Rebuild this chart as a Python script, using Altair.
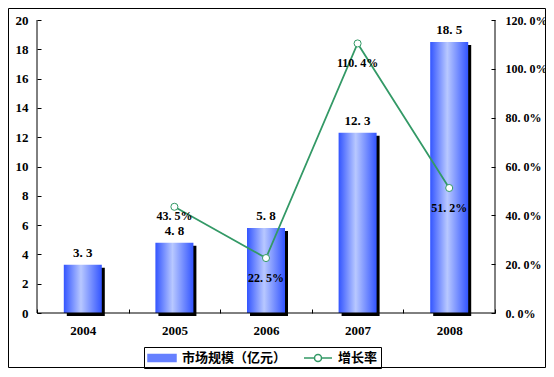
import altair as alt
import pandas as pd

years = ["2004", "2005", "2006", "2007", "2008"]
market = [3.3, 4.8, 5.8, 12.3, 18.5]
growth_years = ["2005", "2006", "2007", "2008"]
growth = [43.5, 22.5, 110.4, 51.2]
bar_name = "市场规模（亿元）"
line_name = "增长率"

W, H = 458, 293
NUM_FONT = "Liberation Serif"
CJK_FONT = "Noto Sans CJK SC"
GREEN = "#339966"
BAR_BLUE = "#6680ff"

bars_df = pd.DataFrame({
    "year": years,
    "value": market,
    "label": [f"{v:.1f}".replace(".", ". ") for v in market],
})
line_df = pd.DataFrame({
    "year": growth_years,
    "rate": growth,
    "label": [f"{v:.1f}".replace(".", ". ") + "%" for v in growth],
})
legend_df = pd.DataFrame({"series": [bar_name, line_name], "year": ["2004", "2005"], "rate": [1000, 1000]})
dummy = pd.DataFrame({"a": [0]})

x_axis = alt.Axis(
    title=None, domain=False, tickBand="extent", tickSize=4, offset=-4,
    tickColor="black", labelAngle=0, labelPadding=11, labelFont=NUM_FONT,
    labelFontWeight="bold", labelFontSize=13, labelColor="black",
)
x_enc = alt.X("year:N", sort=years, scale=alt.Scale(domain=years, paddingInner=0, paddingOuter=0), axis=x_axis)

yl_axis = alt.Axis(
    title=None, domain=False, grid=False, tickSize=4, offset=-4, tickColor="black",
    values=list(range(0, 21, 2)), format="d", labelPadding=9, labelFont=NUM_FONT,
    labelFontWeight="bold", labelFontSize=13, labelColor="black",
)
yl_enc = alt.Y("value:Q", scale=alt.Scale(domain=[0, 20], nice=False), axis=yl_axis)

yr_axis = alt.Axis(
    title=None, domain=False, grid=False, tickSize=4, offset=-4, tickColor="black",
    orient="right", values=list(range(0, 121, 20)),
    labelExpr="replace(format(datum.value, '.1f'), '.', '. ') + '%'",
    labelPadding=10, labelFont=NUM_FONT, labelFontWeight="bold",
    labelFontSize=12, labelColor="black",
)
yr_enc = alt.Y("rate:Q", scale=alt.Scale(domain=[0, 120], nice=False), axis=yr_axis)

grad = alt.Gradient(
    gradient="linear", x1=0, x2=1, y1=0, y2=0,
    stops=[
        alt.GradientStop(offset=0, color="#3355ff"),
        alt.GradientStop(offset=0.45, color="#b8c8ff"),
        alt.GradientStop(offset=1, color="#3355ff"),
    ],
)

base_bar = alt.Chart(bars_df)
shadow = base_bar.mark_bar(size=38, color="black", xOffset=3, yOffset=3).encode(x=x_enc, y=yl_enc)
bars = base_bar.mark_bar(size=38, color=grad).encode(x=x_enc, y=yl_enc)
bar_text = base_bar.mark_text(
    dy=-5, baseline="bottom", font=NUM_FONT, fontWeight="bold", fontSize=13, color="black"
).encode(x=x_enc, y=yl_enc, text="label:N")
left = alt.layer(shadow, bars, bar_text)

path_line = "M-2,0H-0.5M0.5,0H2M0.5,0A0.5,0.5,0,1,1,-0.5,0A0.5,0.5,0,1,1,0.5,0"
path_bar = "M-2,-0.5H2V0.5H-2Z"

legend = alt.Legend(
    title=None, orient="none", legendX=107, legendY=327, direction="horizontal",
    strokeColor="black", padding=3, symbolSize=196, symbolOffset=7,
    symbolStrokeWidth=1.5, labelOffset=12, columnPadding=14, labelFont=CJK_FONT,
    labelFontWeight="bold", labelFontSize=13, labelColor="black",
)
dom = [bar_name, line_name]

base_line = alt.Chart(line_df)
line = base_line.mark_line(strokeWidth=1.75, color=GREEN).encode(x=x_enc, y=yr_enc)
points = base_line.mark_point(shape="circle", size=50, filled=True, fill="white", stroke=GREEN, strokeWidth=1, opacity=1).encode(
    x=x_enc, y=yr_enc
)
legend_layer = alt.Chart(legend_df).mark_point(size=196, filled=True, opacity=1, strokeWidth=1.5, clip=True).encode(
    x=x_enc, y=yr_enc,
    fill=alt.Fill("series:N", scale=alt.Scale(domain=dom, range=[BAR_BLUE, "white"]), legend=legend),
    stroke=alt.Stroke("series:N", scale=alt.Scale(domain=dom, range=[BAR_BLUE, GREEN]), legend=legend),
    shape=alt.Shape("series:N", scale=alt.Scale(domain=dom, range=[path_bar, path_line]), legend=legend),
)
text_2005 = base_line.mark_text(dy=9, baseline="middle", font=NUM_FONT, fontWeight="bold", fontSize=12, color="black").encode(
    x=x_enc, y=yr_enc, text="label:N"
).transform_filter(alt.datum.year == "2005")
text_rest = base_line.mark_text(dy=20, baseline="middle", font=NUM_FONT, fontWeight="bold", fontSize=12, color="black").encode(
    x=x_enc, y=yr_enc, text="label:N"
).transform_filter(alt.datum.year != "2005")
right = alt.layer(line, points, text_2005, text_rest, legend_layer)

deco = alt.Chart(dummy)
left_dom = deco.mark_rule(color="black").encode(x=alt.value(0), y=alt.value(0), y2=alt.value(H))
right_dom = deco.mark_rule(color="black").encode(x=alt.value(W), y=alt.value(0), y2=alt.value(H))
bottom_dom = deco.mark_rule(color="black").encode(x=alt.value(0), x2=alt.value(W), y=alt.value(H))
frame = deco.mark_rect(filled=False, stroke="black", strokeWidth=1).encode(
    x=alt.value(-28.5), x2=alt.value(W + 50.5), y=alt.value(-11.5), y2=alt.value(H + 54.5)
)

chart = alt.layer(left, right, left_dom, right_dom, bottom_dom, frame).resolve_scale(y="independent").properties(
    width=W, height=H,
    autosize=alt.AutoSizeParams(type="none"),
    padding={"left": 29, "top": 12, "right": 51, "bottom": 56},
    background="white",
).configure_view(stroke=None)

chart.save("out.html", embed_options={"renderer": "svg", "actions": False})
